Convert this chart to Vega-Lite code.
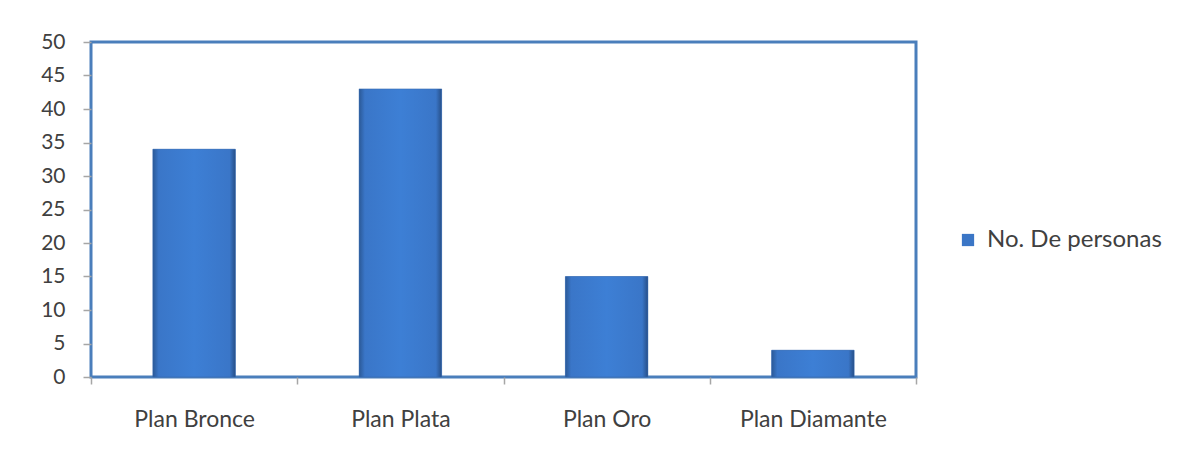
{
  "$schema": "https://vega.github.io/schema/vega-lite/v6.json",
  "autosize": "none",
  "width": 825,
  "height": 335,
  "padding": {"left": 91, "top": 42, "right": 271, "bottom": 80},
  "background": "white",
  "data": {"values": [
    {"plan": "Plan Bronce", "personas": 34, "serie": "No. De personas"},
    {"plan": "Plan Plata", "personas": 43, "serie": "No. De personas"},
    {"plan": "Plan Oro", "personas": 15, "serie": "No. De personas"},
    {"plan": "Plan Diamante", "personas": 4, "serie": "No. De personas"}
  ]},
  "encoding": {
    "x": {"field": "plan", "type": "nominal", "sort": null,
      "scale": {"paddingInner": 0, "paddingOuter": 0},
      "axis": {"title": null, "labelAngle": 0, "domain": false, "tickBand": "extent", "tickSize": 7, "tickColor": "#a6a6a6", "tickWidth": 1.5, "labelPadding": 24, "labelFont": "Lato", "labelFontSize": 23, "labelColor": "#404040", "labelLimit": 300}},
    "y": {"field": "personas", "type": "quantitative",
      "scale": {"domain": [0, 50], "nice": false},
      "axis": {"title": null, "values": [0,5,10,15,20,25,30,35,40,45,50], "grid": false, "domain": false, "tickSize": 8, "tickColor": "#a6a6a6", "tickWidth": 1.5, "labelPadding": 18, "labelFont": "Lato", "labelFontSize": 21, "labelColor": "#404040"}}
  },
  "layer": [
    {
      "mark": {"type": "bar", "width": {"band": 0.4}},
      "encoding": {
        "color": {"field": "serie", "type": "nominal",
          "scale": {"range": ["#3b76c6"]},
          "legend": {"title": null, "orient": "none", "legendX": 865, "legendY": 186, "symbolType": "square", "symbolSize": 150, "symbolStrokeWidth": 0, "labelFont": "Lato", "labelFontSize": 24, "labelColor": "#404040", "labelOffset": 7, "labelLimit": 300}}
      }
    },
    {
      "mark": {"type": "bar", "width": {"band": 0.4},
        "fill": {"gradient": "linear", "x1": 0, "y1": 0, "x2": 1, "y2": 0,
          "stops": [
            {"offset": 0, "color": "#2b5997"},
            {"offset": 0.07, "color": "#3a76c8"},
            {"offset": 0.5, "color": "#3d7fd5"},
            {"offset": 0.93, "color": "#3a76c8"},
            {"offset": 1, "color": "#274f88"}
          ]},
        "stroke": "#3467ad", "strokeWidth": 0.5}
    }
  ],
  "config": {
    "view": {"stroke": "#4a7ebb", "strokeWidth": 3}
  }
}
